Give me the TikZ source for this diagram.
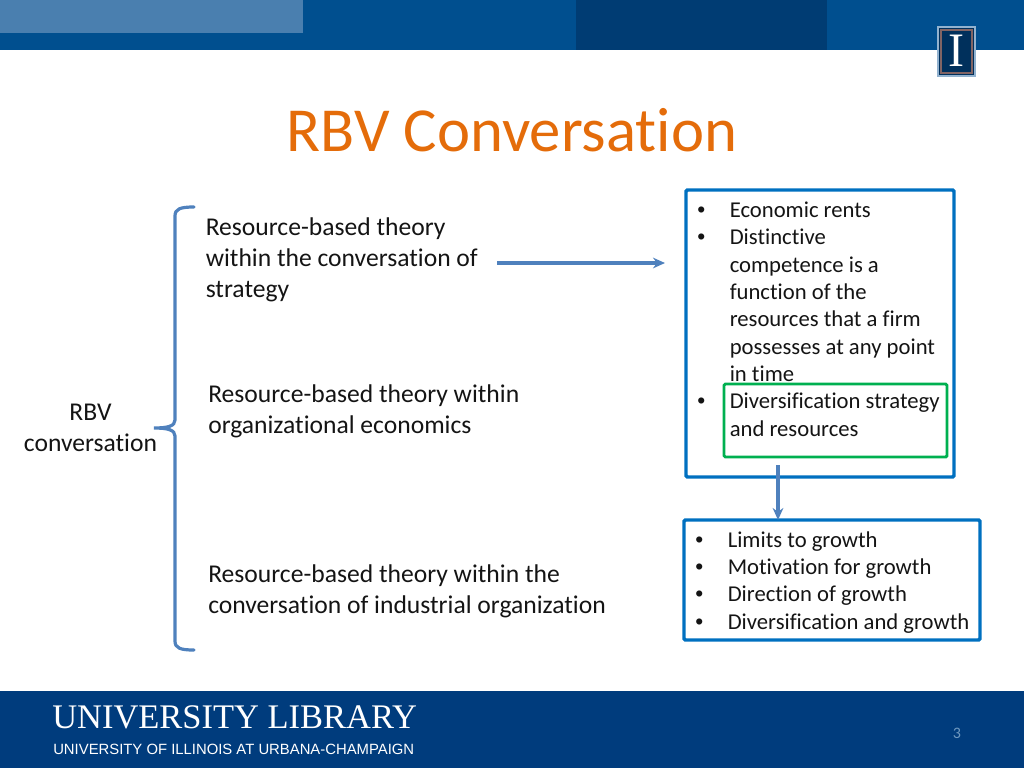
\documentclass[tikz,border=0pt]{standalone}
\usepackage{fontspec}
\setmainfont{Carlito}[Ligatures=NoCommon]
\newfontfamily\serifface{Liberation Serif}
\newfontfamily\arialface{Liberation Sans}
\usetikzlibrary{arrows.meta,positioning,calc}
\definecolor{bandblue}{RGB}{0,79,143}
\definecolor{palesky}{RGB}{74,127,175}
\definecolor{deepblue}{RGB}{0,60,115}
\definecolor{footblue}{RGB}{0,60,125}
\definecolor{titleorange}{RGB}{228,108,10}
\definecolor{boxblue}{RGB}{0,112,192}
\definecolor{boxgreen}{RGB}{0,176,80}
\definecolor{flowblue}{RGB}{79,129,189}
\definecolor{logobrown}{RGB}{130,100,100}
\definecolor{inktext}{RGB}{20,20,20}
\tikzset{
  theorytext/.style={anchor=west,align=left,inner sep=0pt,text=inktext,font=\fontsize{19.2}{23.2}\selectfont},
  listtext/.style={anchor=north west,align=left,inner sep=0pt,text=inktext,font=\fontsize{17}{20.5}\selectfont},
  listdot/.style={anchor=north west,inner sep=0pt,text=inktext,font=\arialface\fontsize{17}{20.5}\selectfont},
  listbox/.style={draw=boxblue,line width=2.6pt,rounded corners=1pt,inner sep=0pt,outer sep=0pt,anchor=north west},
  flowline/.style={draw=flowblue,line width=2.8pt,-{Stealth[length=9pt,width=8pt]}},
}
\begin{document}
\begin{tikzpicture}[x=.75pt,y=-.75pt]
\useasboundingbox (0,0) rectangle (1024,768);
% header and footer bands
\fill[bandblue] (0,0) rectangle (1024,50);
\fill[palesky] (0,0) rectangle (303,33);
\fill[deepblue] (576,0) rectangle (827,50);
\fill[footblue] (0,691) rectangle (1024,768);
% logo
\fill[deepblue!80!black,draw=palesky!60!white,line width=1pt] (938,27) rectangle (975,76);
\draw[logobrown,line width=1.2pt] (941,30) rectangle (972,73);
\node[font=\serifface\fontsize{36}{36}\selectfont,text=white,inner sep=0pt] (logoletter) at (956.5,51) {I};
% title
\node[font=\fontsize{47}{54}\selectfont,text=titleorange,inner sep=0pt] (title) at (512,130) {RBV Conversation};
% left side
\node[align=center,inner sep=0pt,text=inktext,font=\fontsize{19.2}{23.2}\selectfont] (rbv) at (90.5,428) {RBV\\conversation};
\draw[flowblue,line width=2.4pt,line cap=round] (194,207) .. controls (180,207) and (175,209) .. (175,216) -- (175,420) .. controls (175,426) and (168,428) .. (154,428) .. controls (168,428) and (175,430) .. (175,436) -- (175,641) .. controls (175,648) and (180,650) .. (194,650);
\node[theorytext] (strategy) at (205.5,259.5) {Resource-based theory\\within the conversation of\\strategy};
\node[theorytext] (orgecon) at (208,411) {Resource-based theory within\\organizational economics};
\node[theorytext] (indorg) at (208,591) {Resource-based theory within the\\conversation of industrial organization};
% right side boxes
\node[listbox,minimum width=268*.75pt,minimum height=287*.75pt] (rentsbox) at (686,190) {};
\node[listbox,minimum width=296*.75pt,minimum height=120*.75pt] (growthbox) at (684,520) {};
\node[draw=boxgreen,line width=2.2pt,rounded corners=1pt,inner sep=0pt,outer sep=0pt,anchor=north west,minimum width=223*.75pt,minimum height=73*.75pt] (greenbox) at (724,384) {};
% bullets
\foreach \yy/\nm in {207/a,234/b,398/c}
  \node[listdot] (dot\nm) at (697,\yy) {•};
\foreach \yy/\nm in {537/d,564/e,591/f,619/g}
  \node[listdot] (dot\nm) at (695,\yy) {•};
\node[listtext] (rents) at (729.5,201.5) {Economic rents\\Distinctive\\competence is a\\function of the\\resources that a firm\\possesses at any point\\in time\\Diversification strategy\\and resources};
\node[listtext] (growth) at (727.5,531) {Limits to growth\\Motivation for growth\\Direction of growth\\Diversification and growth};
% arrows
\coordinate (arrowstart) at (497,263);
\coordinate (dropstart) at (778,465);
\draw[flowline,shorten >=21*.75pt] (arrowstart) -- (arrowstart -| rentsbox.west);
\draw[flowline] (dropstart) -- (dropstart |- growthbox.north);
% footer text
\node[anchor=base west,inner sep=0pt,text=white,font=\serifface\fontsize{25.85}{26}\selectfont] (library) at (52,728.5) {UNIVERSITY LIBRARY};
\node[anchor=base west,inner sep=0pt,text=white,font=\arialface\fontsize{11.14}{12}\selectfont] (campus) at (53,754) {UNIVERSITY OF ILLINOIS AT URBANA-CHAMPAIGN};
\node[text=palesky!80!white,inner sep=0pt,font=\fontsize{12}{14}\selectfont] (pagenum) at (957,733) {3};
\end{tikzpicture}
\end{document}
